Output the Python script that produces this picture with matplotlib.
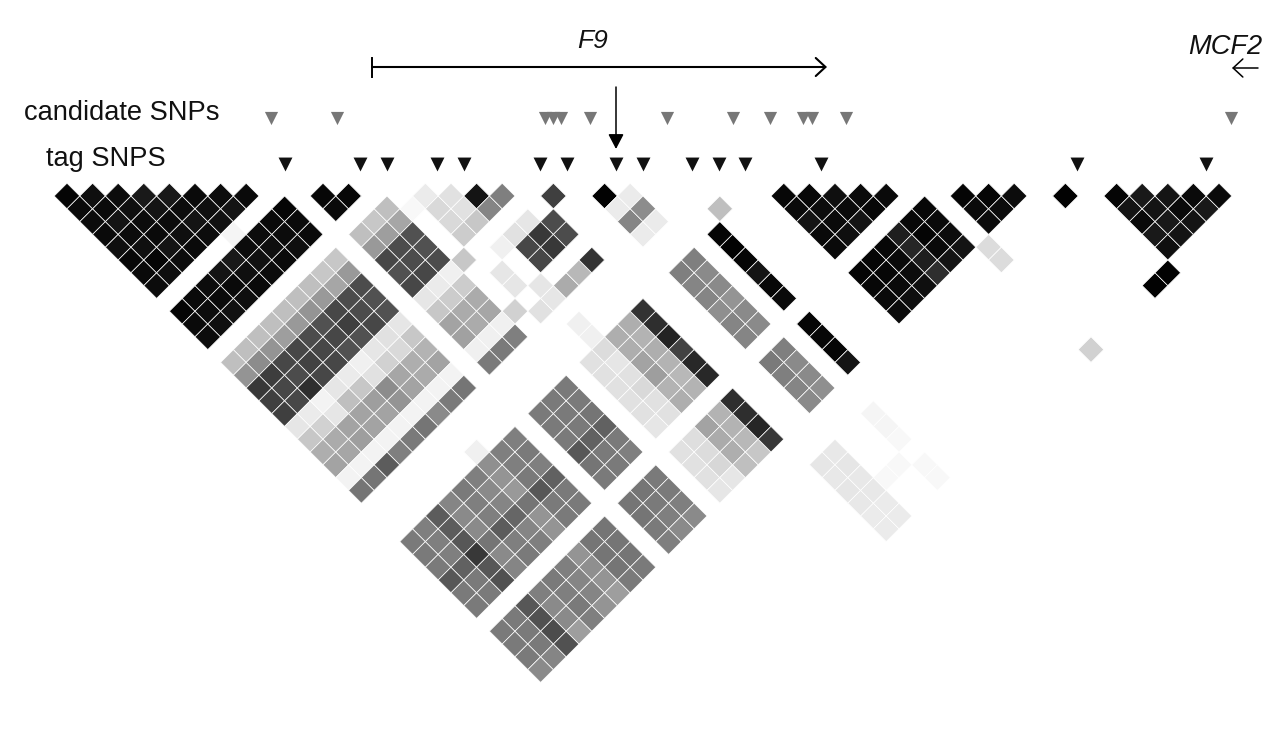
import numpy as np
from matplotlib import pyplot as plt
from matplotlib.collections import PolyCollection

plt.rcParams['font.family'] = ['Liberation Sans', 'DejaVu Sans']

n_snps = 48

# SNP positions along the map
candidate_pos = [271, 337, 545, 553, 561, 590, 667, 733, 770, 803, 812, 846, 1231]
tag_pos = [285, 360, 387, 437, 464, 540, 567, 616, 643, 692, 719, 745, 821, 1077, 1206]

# r2 in percent, rows go by first SNP, columns by second SNP
tri_0_8 = [
    [98, 96, 95, 96, 94, 97, 96, 95],
    [94, 96, 92, 95, 94, 98, 94],
    [95, 94, 95, 96, 92, 95],
    [90, 92, 95, 94, 96],
    [90, 95, 92, 95],
    [96, 94, 93],
    [95, 92],
    [96],
]
a_0_8_14_18 = [
    [25, 42, 78, 75, 75],
    [25, 45, 76, 72, 72],
    [25, 42, 72, 70, 82],
    [25, 38, 72, 74, 72],
    [25, 40, 70, 72, 72],
    [25, 42, 68, 72, 68],
    [25, 40, 72, 75, 68],
    [22, 35, 70, 70, 72],
    [22, 40, 70, 68, 68],
]
b_0_8_19_24 = [
    [10, 22, 32, 36, 5, 54],
    [8, 18, 33, 35, 5, 54],
    [5, 10, 36, 38, 5, 64],
    [10, 25, 36, 36, 5, 50],
    [8, 22, 38, 36, 5, 52],
    [6, 12, 45, 42, 5, 54],
    [10, 18, 35, 36, 5, 46],
    [12, 15, 32, 33, 5, 52],
    [10, 22, 30, 36, 5, 54],
]
c_0_8_28_33 = [
    [52, 52, 52, 66, 52, 52],
    [50, 50, 50, 62, 52, 52],
    [64, 64, 66, 78, 66, 68],
    [48, 46, 46, 54, 46, 48],
    [52, 50, 50, 64, 50, 52],
    [50, 46, 48, 60, 48, 50],
    [44, 42, 40, 54, 42, 42],
    [50, 50, 52, 66, 52, 52],
    [50, 52, 50, 62, 52, 52],
]
d_0_8_35_38 = [
    [52, 52, 52, 46],
    [52, 52, 52, 48],
    [66, 68, 70, 68],
    [50, 46, 46, 38],
    [52, 50, 52, 50],
    [50, 48, 48, 42],
    [42, 44, 42, 38],
    [54, 54, 54, 52],
    [54, 54, 54, 52],
]
tri_10_12 = [[97, 96], [97]]
f_0_8_10_12 = [
    [98, 96, 95],
    [96, 95, 94],
    [95, 96, 93],
    [92, 96, 94],
    [90, 94, 96],
    [95, 93, 95],
    [95, 94, 96],
    [96, 95, 94],
    [98, 96, 96],
]
g_10_12_14_18 = [
    [25, 40, 72, 68, 72],
    [22, 38, 70, 70, 72],
    [25, 35, 68, 68, 70],
]
h_10_12_19_24 = [
    [10, 22, 36, 37, 6, 52],
    [8, 20, 33, 33, 6, 52],
    [6, 20, 33, 35, 6, 50],
]
k_10_12_28_33 = [
    [52, 52, 52, 66, 54, 52],
    [52, 52, 52, 62, 52, 52],
    [52, 52, 54, 62, 52, 50],
]
m_10_12_35_38 = [
    [54, 54, 52, 50],
    [54, 52, 50, 46],
    [52, 52, 50, 46],
]
n_14_18_28_33 = [
    [12, 12, 12, 12, 12, 10],
    [14, 10, 12, 15, 12, 12],
    [32, 32, 36, 38, 30, 32],
    [32, 30, 32, 30, 28, 30],
    [80, 82, 86, 74, 84, 84],
]
p_14_18_35_38 = [
    [12, 12, 12, 10],
    [13, 14, 16, 10],
    [36, 33, 32, 25],
    [30, 30, 28, 22],
    [82, 82, 85, 78],
]
q_16_18_21_22 = [
    [72, 72],
    [78, 78],
    [70, 70],
]
r_21_22_28_33 = [
    [50, 48, 48, 44, 48, 48],
    [50, 46, 46, 42, 46, 46],
]
s_21_22_35_38 = [
    [52, 50, 48, 46],
    [50, 46, 46, 44],
]
t_24_28_33 = [[98, 99, 98, 92, 97, 96]]
u_24_35_38 = [[98, 97, 98, 92]]
tri_28_33 = [
    [97, 96, 92, 96, 96],
    [97, 95, 96, 94],
    [94, 96, 92],
    [96, 97],
    [96],
]
v_28_33_35_38 = [
    [98, 97, 96, 95],
    [98, 97, 96, 94],
    [97, 96, 95, 94],
    [88, 85, 88, 82],
    [97, 98, 96, 92],
    [97, 96, 95, 92],
]
tri_35_38 = [[98, 96, 95], [98, 95], [95]]
tri_41_46 = [
    [98, 92, 96, 90, 94],
    [90, 92, 90, 92],
    [92, 96, 92],
    [96, 90],
    [96],
]
w_39_40_47 = [[99], [99]]
pale_19_20_41_46 = [
    [10, 9, 10, 9, 8, 8],
    [9, 10, 9, 9, 8, 8],
]
# isolated pairs: first SNP, second SNP, r2
single_pairs = [
    (5, 9, 4), (13, 15, 3), (13, 19, 22), (13, 23, 18),
    (14, 15, 8), (15, 16, 12), (14, 16, 15), (15, 17, 12), (14, 17, 15),
    (15, 18, 22), (14, 18, 20), (16, 17, 92), (17, 18, 50), (16, 18, 48),
    (15, 20, 6), (16, 20, 12), (17, 20, 10), (14, 21, 10), (14, 22, 10),
    (15, 23, 10), (14, 24, 12), (15, 24, 10), (16, 24, 33), (17, 24, 28),
    (18, 24, 80), (19, 20, 75), (21, 22, 99), (22, 23, 8), (21, 23, 8),
    (22, 24, 45), (21, 24, 48), (22, 25, 8), (21, 25, 8), (25, 27, 25),
    (15, 26, 6), (15, 27, 6), (6, 27, 6), (39, 40, 99), (34, 39, 14),
    (34, 40, 14), (34, 47, 18), (23, 41, 4), (23, 42, 4), (23, 43, 3),
    (22, 44, 3), (21, 44, 3), (23, 45, 3), (23, 46, 3),
]

ld = np.zeros((n_snps, n_snps))


def put(i0, j0, rows):
    for di, row in enumerate(rows):
        for dj, val in enumerate(row):
            ld[i0 + di, j0 + dj] = val


def put_tri(i0, rows):
    for di, row in enumerate(rows):
        for dj, val in enumerate(row):
            ld[i0 + di, i0 + di + 1 + dj] = val


put_tri(0, tri_0_8)
put_tri(10, tri_10_12)
put_tri(28, tri_28_33)
put_tri(35, tri_35_38)
put_tri(41, tri_41_46)
put(0, 10, f_0_8_10_12)
put(0, 14, a_0_8_14_18)
put(0, 19, b_0_8_19_24)
put(0, 28, c_0_8_28_33)
put(0, 35, d_0_8_35_38)
put(10, 14, g_10_12_14_18)
put(10, 19, h_10_12_19_24)
put(10, 28, k_10_12_28_33)
put(10, 35, m_10_12_35_38)
put(14, 28, n_14_18_28_33)
put(14, 35, p_14_18_35_38)
put(16, 21, q_16_18_21_22)
put(21, 28, r_21_22_28_33)
put(21, 35, s_21_22_35_38)
put(24, 28, t_24_28_33)
put(24, 35, u_24_35_38)
put(28, 35, v_28_33_35_38)
put(39, 47, w_39_40_47)
put(19, 41, pale_19_20_41_46)
for i, j, val in single_pairs:
    ld[i, j] = val

# the triangle is the matrix turned by 45 degrees
step = 12.8
diamonds, values = [], []
for i, j in zip(*np.nonzero(ld)):
    cx = 67 + step * (i + j - 1)
    cy = 196 + step * (j - i - 1)
    diamonds.append([(cx - step, cy), (cx, cy - step), (cx + step, cy), (cx, cy + step)])
    values.append(ld[i, j])

fig = plt.figure(figsize=(12.8, 7.36), dpi=100)
ax = fig.add_axes([0, 0, 1, 1])
ax.set_xlim(0, 1280)
ax.set_ylim(736, 0)
ax.axis('off')

cells = PolyCollection(diamonds, array=np.array(values), cmap='gray_r', edgecolors='white', linewidths=0.5)
cells.set_clim(0, 100)
ax.add_collection(cells)

ax.scatter(candidate_pos, [118] * len(candidate_pos), marker='v', s=90, color='#777777', linewidths=0)
ax.scatter(tag_pos, [164] * len(tag_pos), marker='v', s=100, color='#111111', linewidths=0)

ax.text(24, 113, 'candidate SNPs', fontsize=19.6, va='center', ha='left', color='#111111')
ax.text(46, 159, 'tag SNPS', fontsize=19.6, va='center', ha='left', color='#111111')
ax.text(593, 41, 'F9', fontsize=19, style='italic', va='center', ha='center', color='#111111')
ax.text(1225, 47, 'MCF2', fontsize=19.6, style='italic', va='center', ha='center', color='#111111')

# gene tracks
ax.annotate('', xy=(827, 67), xytext=(372, 67),
            arrowprops=dict(arrowstyle='->,head_length=0.7,head_width=0.65', lw=1.5, color='black',
                            shrinkA=0, shrinkB=0))
ax.plot([372, 372], [58, 77], color='black', lw=1.4)
ax.annotate('', xy=(1232, 68), xytext=(1258, 68),
            arrowprops=dict(arrowstyle='->,head_length=0.7,head_width=0.65', lw=1.1, color='black',
                            shrinkA=0, shrinkB=0))
ax.annotate('', xy=(616, 149), xytext=(616, 87),
            arrowprops=dict(arrowstyle='-|>,head_length=0.9,head_width=0.47', lw=1.1, color='black',
                            shrinkA=0, shrinkB=0))

fig.savefig('out.png', dpi=100)
